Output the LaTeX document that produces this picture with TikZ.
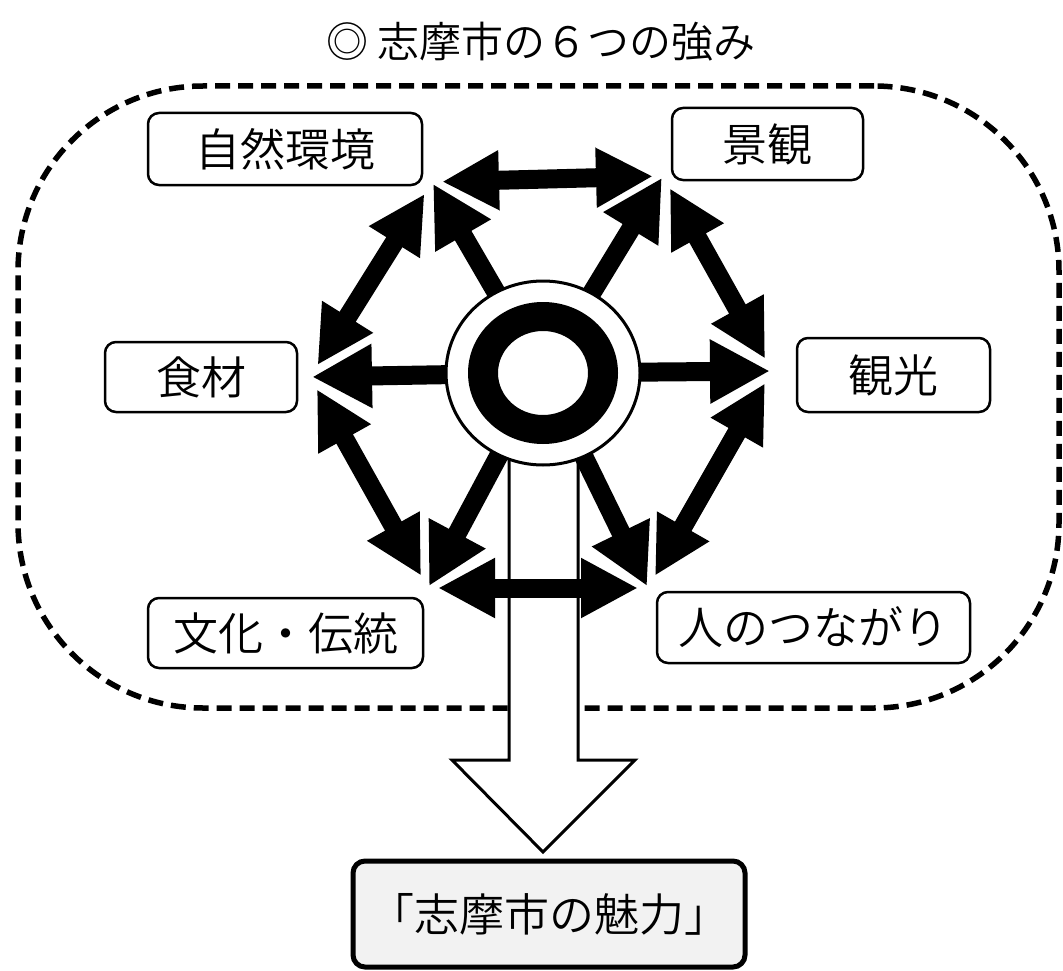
\documentclass[tikz,border=0pt]{standalone}
\usepackage{fontspec}
\newfontfamily\jp{Noto Sans CJK JP}[UprightFont={* DemiLight}]
\usetikzlibrary{arrows.meta,shapes.geometric}
\begin{document}
\begin{tikzpicture}[x=1pt,y=-1pt,
  lbl/.style={draw, line width=2.5pt, rounded corners=11pt, fill=white, inner sep=0pt,
    font=\jp\fontsize{45}{52}\selectfont},
  fat/.style={line width=19pt, -{Triangle[length=60pt,width=60pt]}},
  fatboth/.style={line width=19pt, {Triangle[length=57pt,width=56pt]}-{Triangle[length=57pt,width=56pt]}},
]
\useasboundingbox (0,0) rectangle (1063,971);
% title
\node[font=\jp\fontsize{42}{50}\selectfont, inner sep=0pt] (title) at (541,42) {◎ 志摩市の６つの強み};
% dashed frame
\node[draw, line width=5.5pt, dash pattern=on 15pt off 8pt, rounded corners=185pt,
  minimum width=1041pt, minimum height=622pt, inner sep=0pt] (frame) at (538.5,397) {};
% vertices
\coordinate (c0) at (543,373);
\coordinate (vTL) at (432,182);
\coordinate (vTR) at (663,176);
\coordinate (vR) at (772,371);
\coordinate (vBR) at (648,588);
\coordinate (vBL) at (428,588);
\coordinate (vL) at (310,377);
% final box
\node[draw, line width=5pt, rounded corners=12pt, fill=gray!10, inner sep=0pt,
  minimum width=392pt, minimum height=106pt, font=\jp\fontsize{45}{52}\selectfont] (final) at (549,914) {「志摩市の魅力」};
% big hollow arrow
\coordinate (atip) at (543,852);
\draw[line width=3pt, fill=white, line join=miter]
  (509,445) -- (509,760) -- (452,760) -- (atip) -- (635,760) -- (578,760) -- (578,445) -- cycle;
% spokes
\foreach \v in {vTL,vTR,vR,vBR,vBL,vL}
  \draw[fat, shorten >=2pt] (c0) -- (\v);
% rim arrows
\draw[fatboth, shorten >=10pt, shorten <=10pt] (vTL) -- (vTR);
\draw[fatboth, shorten >=14pt, shorten <=14pt] (vTR) -- (vR);
\draw[fatboth, shorten >=14pt, shorten <=14pt] (vR) -- (vBR);
\draw[fatboth, shorten >=10pt, shorten <=10pt] (vBR) -- (vBL);
\draw[fatboth, shorten >=14pt, shorten <=14pt] (vBL) -- (vL);
\draw[fatboth, shorten >=14pt, shorten <=14pt] (vL) -- (vTL);
% centre circle
\node[ellipse, draw, line width=3pt, fill=white, minimum width=194pt, minimum height=184pt, inner sep=0pt] (C) at (c0) {};
\fill[even odd rule] (C.center) ellipse [x radius=75pt, y radius=71pt]
                     (C.center) ellipse [x radius=45pt, y radius=42pt];
% label boxes
\node[lbl, minimum width=274pt, minimum height=72pt] (shizen) at (285,149) {自然環境};
\node[lbl, minimum width=191pt, minimum height=72pt] (keikan) at (767.5,144) {景観};
\node[lbl, minimum width=192pt, minimum height=70pt] (shokuzai) at (201,377) {食材};
\node[lbl, minimum width=193pt, minimum height=74pt] (kanko) at (893.5,375) {観光};
\node[lbl, minimum width=275pt, minimum height=70pt] (bunka) at (285.5,633) {文化・伝統};
\node[lbl, minimum width=313pt, minimum height=71pt] (hito) at (813.5,627.5) {人のつながり};
\end{tikzpicture}
\end{document}
